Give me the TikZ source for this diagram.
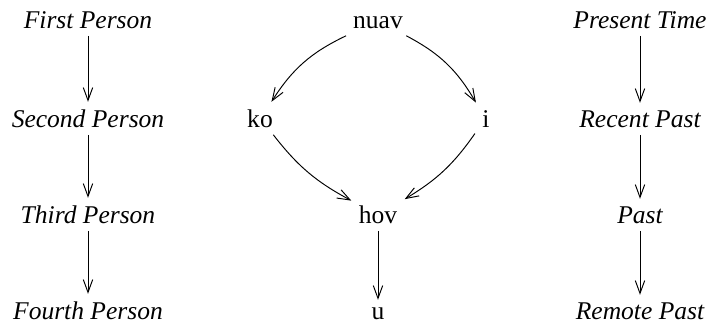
\documentclass[tikz,border=0pt]{standalone}
\usepackage{fontspec}
\setmainfont{Liberation Serif}
\usetikzlibrary{arrows.meta}
\tikzset{
  lbl/.style={anchor=base,font=\fontsize{12}{14}\selectfont\itshape},
  word/.style={anchor=base,font=\fontsize{12}{14}\selectfont},
  arr/.style={-{Straight Barb[length=6pt,width=4.4pt]},line width=0.45pt}
}
\begin{document}
\begin{tikzpicture}[x=0.47pt,y=-0.47pt]
\useasboundingbox (0,0) rectangle (709,327);

\begin{scope}
\node[lbl] (p1) at (88,28) {First Person};
\node[lbl] (p2) at (88,127) {Second Person};
\node[lbl] (p3) at (88,223) {Third Person};
\node[lbl] (p4) at (88,319) {Fourth Person};
\foreach \a/\b in {p1/p2,p2/p3,p3/p4}
  \draw[arr] (\a) -- (\b);
\end{scope}

\begin{scope}
\node[word] (nuav) at (378,28) {nuav};
\node[word] (ko) at (260,127) {ko};
\node[word] (i) at (486,127) {i};
\node[word] (hov) at (378,223) {hov};
\node[word] (u) at (378,319) {u};
\draw[arr] (nuav) to[bend right=16] (ko);
\draw[arr] (nuav) to[bend left=16] (i);
\draw[arr] (ko) to[bend right=12] (hov);
\draw[arr] (i) to[bend left=12] (hov);
\draw[arr] (hov) -- (u);
\end{scope}

\begin{scope}
\node[lbl] (t1) at (640,28) {Present Time};
\node[lbl] (t2) at (640,127) {Recent Past};
\node[lbl] (t3) at (640,223) {Past};
\node[lbl] (t4) at (640,319) {Remote Past};
\foreach \a/\b in {t1/t2,t2/t3,t3/t4}
  \draw[arr] (\a) -- (\b);
\end{scope}
\end{tikzpicture}
\end{document}
